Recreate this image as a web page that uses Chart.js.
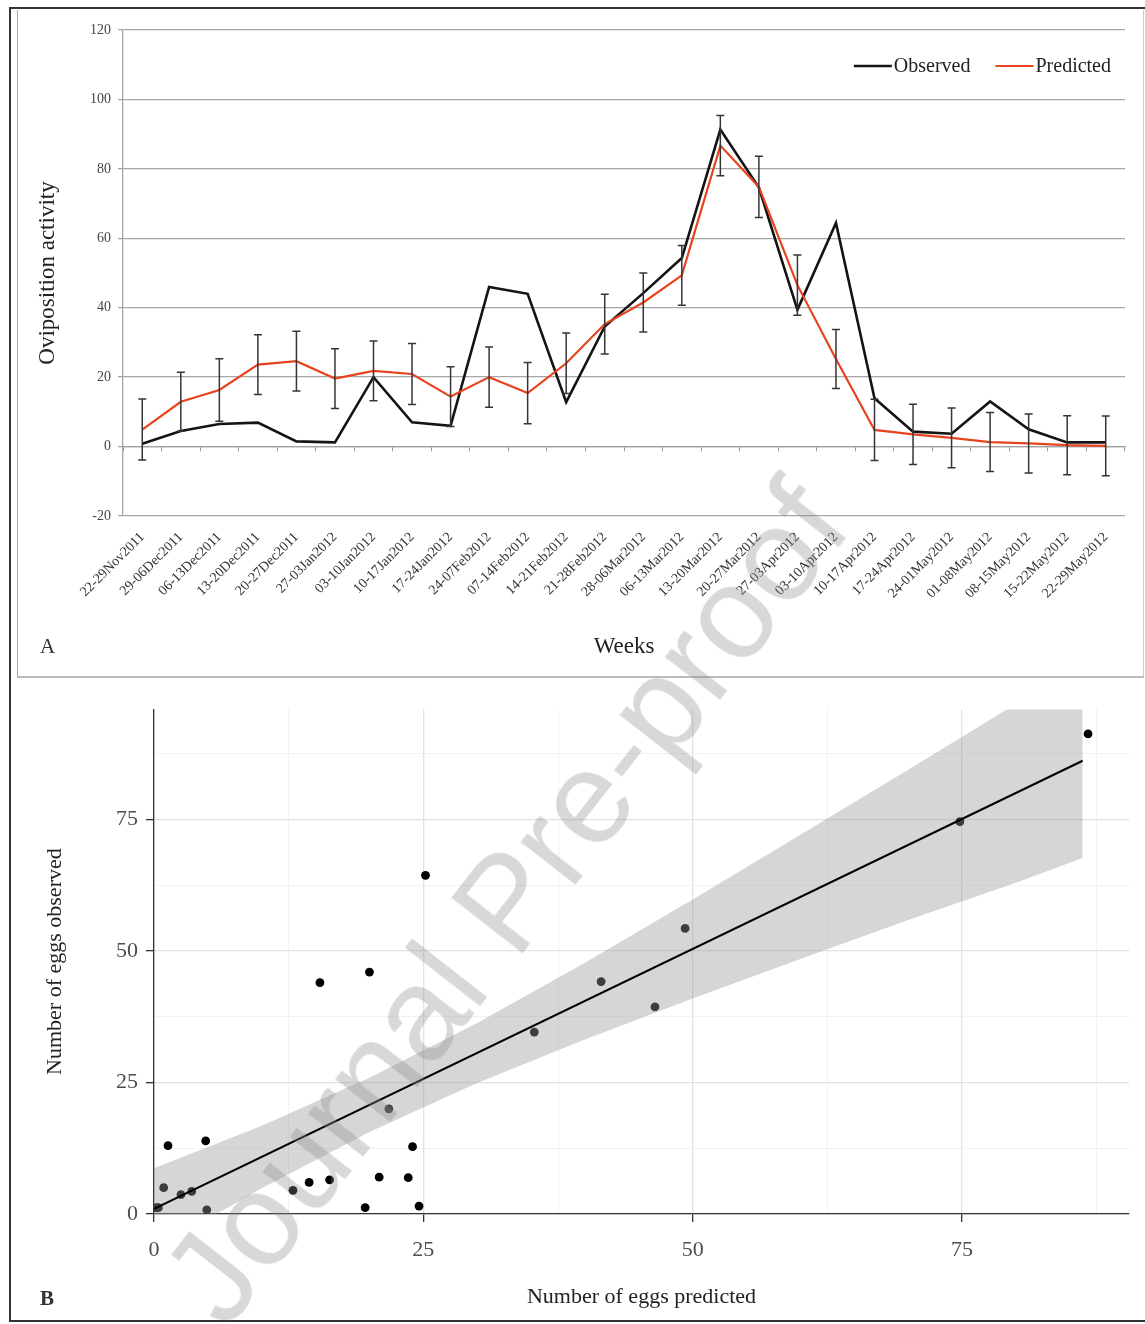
<!DOCTYPE html>
<html><head><meta charset="utf-8">
<script src="https://cdn.jsdelivr.net/npm/chart.js@4.4.0/dist/chart.umd.min.js"></script>
<style>
html,body{margin:0;padding:0;background:#fff;}
body{width:1145px;height:1324px;position:relative;overflow:hidden;font-family:"Liberation Serif","Times New Roman",serif;}
#frame{position:absolute;left:9px;top:7px;width:1140px;height:1311px;border-left:2px solid #333;border-top:2px solid #333;border-bottom:2px solid #333;}
#panelA{position:absolute;left:17px;top:10px;width:1125px;height:666px;border-left:1px solid #aaa;border-bottom:2px solid #bbb;border-right:1px solid #ccc;}
#cA{position:absolute;left:17px;top:10px;}
#cB{position:absolute;left:12px;top:688px;}
.lab{position:absolute;font-size:21px;color:#333;line-height:1;}
#wm{position:absolute;left:505px;top:902px;width:0;height:0;pointer-events:none;z-index:10;}
#wm span{position:absolute;left:0;top:0;transform:translate(-50%,-50%) rotate(-52deg);white-space:nowrap;font-family:"Liberation Sans",Arial,sans-serif;font-size:132px;color:rgba(140,140,140,0.34);line-height:1;}
</style></head>
<body>
<div id="frame"></div>
<div id="panelA"></div>
<canvas id="cA" width="1126" height="667"></canvas>
<canvas id="cB" width="1133" height="636"></canvas>
<div class="lab" style="left:40px;top:636px;">A</div>
<div class="lab" style="left:40px;top:1288px;font-weight:bold;">B</div>
<div id="wm"><span>Journal Pre-proof</span></div>
<script>
const weeks = ["22-29Nov2011","29-06Dec2011","06-13Dec2011","13-20Dec2011","20-27Dec2011","27-03Jan2012","03-10Jan2012","10-17Jan2012","17-24Jan2012","24-07Feb2012","07-14Feb2012","14-21Feb2012","21-28Feb2012","28-06Mar2012","06-13Mar2012","13-20Mar2012","20-27Mar2012","27-03Apr2012","03-10Apr2012","10-17Apr2012","17-24Apr2012","24-01May2012","01-08May2012","08-15May2012","15-22May2012","22-29May2012"];
const observed  = [0.8, 4.5, 6.5, 6.9, 1.5, 1.2, 20.0, 7.0, 6.0, 46.0, 44.0, 12.8, 34.6, 44.2, 54.3, 91.3, 74.6, 39.4, 64.4, 13.9, 4.3, 3.7, 13.0, 5.0, 1.2, 1.2];
const predicted = [4.9, 12.9, 16.3, 23.6, 24.6, 19.6, 21.8, 20.9, 14.4, 20.0, 15.4, 24.0, 35.3, 41.5, 49.3, 86.7, 74.8, 46.5, 25.2, 4.8, 3.5, 2.5, 1.3, 0.9, 0.4, 0.2];
const predictedErr = [8.8, 8.5, 9.0, 8.6, 8.6, 8.6, 8.6, 8.8, 8.6, 8.7, 8.8, 8.7, 8.6, 8.5, 8.6, 8.7, 8.8, 8.7, 8.5, 8.8, 8.7, 8.6, 8.5, 8.5, 8.5, 8.6];

const bandX     = [0, 10, 20, 30, 40, 50, 60, 70, 80, 86.2];
const bandLower = [-6.7, 4.9, 15.6, 24.9, 33.2, 41.0, 48.5, 55.9, 63.0, 67.7];
const bandUpper = [8.7, 16.8, 25.9, 36.3, 47.8, 59.8, 72.1, 84.5, 97.0, 104.7];
const fitX = [0, 86.2];
const fitY = [1.0, 86.2];

const SERIF = "'Liberation Serif','Times New Roman',serif";

const errorBars = {
  id:'errorBars',
  afterDatasetsDraw(chart){
    const meta = chart.getDatasetMeta(1);
    const ys = chart.scales.y, ctx = chart.ctx;
    ctx.save();
    ctx.strokeStyle = '#353535';
    ctx.lineWidth = 1.5;
    meta.data.forEach((pt, i) => {
      const x = pt.x;
      const t = ys.getPixelForValue(predicted[i] + predictedErr[i]);
      const b = ys.getPixelForValue(predicted[i] - predictedErr[i]);
      ctx.beginPath();
      ctx.moveTo(x, t); ctx.lineTo(x, b);
      ctx.moveTo(x - 4, t); ctx.lineTo(x + 4, t);
      ctx.moveTo(x - 4, b); ctx.lineTo(x + 4, b);
      ctx.stroke();
    });
    ctx.restore();
  }
};

const insideLegend = {
  id:'insideLegend',
  afterDraw(chart){
    const ctx = chart.ctx, area = chart.chartArea;
    ctx.save();
    ctx.font = '20px ' + SERIF;
    ctx.textBaseline = 'middle';
    const items = chart.data.datasets.map(d => ({text:d.label, color:d.borderColor, lw:d.borderWidth}));
    const lineW = 38, gap = 2, itemGap = 25;
    const widths = items.map(it => lineW + gap + ctx.measureText(it.text).width);
    const total = widths.reduce((a, b) => a + b, 0) + itemGap * (items.length - 1);
    let x = area.right - 14 - total;
    const y = area.top + 36;
    items.forEach((it, i) => {
      ctx.strokeStyle = it.color; ctx.lineWidth = it.lw;
      ctx.beginPath(); ctx.moveTo(x, y); ctx.lineTo(x + lineW, y); ctx.stroke();
      ctx.fillStyle = '#222';
      ctx.fillText(it.text, x + lineW + gap, y + 1);
      x += widths[i] + itemGap;
    });
    ctx.restore();
  }
};

new Chart(document.getElementById('cA'), {
  type: 'line',
  data: {
    labels: weeks,
    datasets: [
      {label:'Observed', data: observed, borderColor:'#141414', backgroundColor:'#141414', borderWidth:2.6, pointRadius:0, tension:0, order:2},
      {label:'Predicted', data: predicted, borderColor:'#e8431f', backgroundColor:'#e8431f', borderWidth:2.2, pointRadius:0, tension:0, order:1}
    ]
  },
  options: {
    responsive:false, animation:false, events:[],
    layout:{padding:{top:20, right:18, left:0, bottom:0}},
    plugins:{legend:{display:false}, tooltip:{enabled:false}},
    scales:{
      x:{type:'category', position:{y:0}, offset:true,
        grid:{drawOnChartArea:false, offset:true, tickLength:4, color:'#9a9a9a', lineWidth:1},
        border:{color:'#a0a0a0', width:1.3},
        ticks:{display:false},
        afterFit(s){ s.height = 0; }},
      x2:{type:'category', labels: weeks, position:'bottom', offset:true,
        grid:{display:false}, border:{display:false},
        ticks:{autoSkip:false, minRotation:45, maxRotation:45, font:{family:SERIF, size:14}, color:'#333', padding:5},
        title:{display:true, text:'Weeks', font:{family:SERIF, size:23}, color:'#222', padding:{top:0, bottom:16}},
        afterFit(s){ s.height = 161; }},
      y:{min:-20, max:120,
        ticks:{stepSize:20, font:{family:SERIF, size:14}, color:'#444', padding:7},
        grid:{color:'#a6a6a6', lineWidth:1.3, tickLength:5},
        border:{color:'#a6a6a6', width:1.3},
        title:{display:true, text:'Oviposition activity', font:{family:SERIF, size:23}, color:'#222', padding:{top:17, bottom:0}},
        afterFit(s){ s.width = 106; }}
    }
  },
  plugins:[errorBars, insideLegend]
});

const isMajor = c => c.tick && Math.abs(c.tick.value % 25) < 1e-6;
function gridB(){
  return {
    color: c => isMajor(c) ? '#e2e2e2' : '#f0f0f0',
    lineWidth: c => isMajor(c) ? 1.3 : 0.9,
    tickColor: c => isMajor(c) ? '#333' : 'rgba(0,0,0,0)',
    tickLength: 8, tickWidth: 1.3
  };
}
const tickCb = v => (Math.abs(v % 25) < 1e-6 ? String(v) : '');

new Chart(document.getElementById('cB'), {
  type: 'scatter',
  data: {
    datasets: [
      {type:'scatter', data: predicted.map((p, i) => ({x:p, y:observed[i]})), pointRadius:4.4, backgroundColor:'#000', borderWidth:0, order:3},
      {type:'line', data: bandX.map((x, i) => ({x, y:bandLower[i]})), borderWidth:0, borderColor:'rgba(0,0,0,0)', pointRadius:0, fill:false, order:2},
      {type:'line', data: bandX.map((x, i) => ({x, y:bandUpper[i]})), borderWidth:0, borderColor:'rgba(0,0,0,0)', pointRadius:0, fill:'-1', backgroundColor:'rgba(153,153,153,0.4)', order:2},
      {type:'line', data: fitX.map((x, i) => ({x, y:fitY[i]})), borderColor:'#000', borderWidth:2, pointRadius:0, fill:false, order:1}
    ]
  },
  options: {
    responsive:false, animation:false, events:[],
    layout:{padding:{top:15, right:16, left:0, bottom:0}},
    plugins:{legend:{display:false}, tooltip:{enabled:false}},
    scales:{
      x:{type:'linear', min:0, max:90.5,
        ticks:{stepSize:12.5, includeBounds:false, autoSkip:false, maxRotation:0, callback:tickCb, font:{family:SERIF, size:22}, color:'#4d4d4d', padding:15},
        grid: gridB(),
        border:{color:'#333', width:1.3},
        title:{display:true, text:'Number of eggs predicted', font:{family:SERIF, size:22}, color:'#222', padding:{top:0, bottom:14}},
        afterFit(s){ s.height = 110; }},
      y:{type:'linear', min:0, max:96,
        ticks:{stepSize:12.5, includeBounds:false, autoSkip:false, callback:tickCb, font:{family:SERIF, size:22}, color:'#4d4d4d', padding:8},
        grid: gridB(),
        border:{color:'#333', width:1.3},
        title:{display:true, text:'Number of eggs observed', font:{family:SERIF, size:22}, color:'#222', padding:{top:30, bottom:0}},
        afterFit(s){ s.width = 142; }}
    }
  }
});
</script>
</body></html>
